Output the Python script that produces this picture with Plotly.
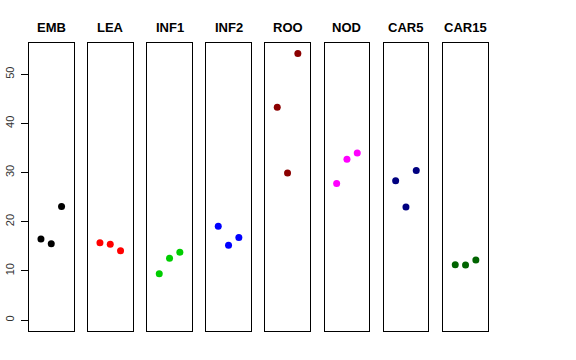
import plotly.graph_objects as go

categories = ["EMB", "LEA", "INF1", "INF2", "ROO", "NOD", "CAR5", "CAR15"]
colors = ["#000000", "#FF0000", "#00CD00", "#0000FF", "#8B0000", "#FF00FF", "#000080", "#006400"]
values = {
    "EMB": [16.5, 15.5, 23.1],
    "LEA": [15.7, 15.4, 14.1],
    "INF1": [9.4, 12.55, 13.8],
    "INF2": [19.1, 15.2, 16.8],
    "ROO": [43.3, 29.9, 54.2],
    "NOD": [27.8, 32.7, 34.0],
    "CAR5": [28.35, 23.0, 30.4],
    "CAR15": [11.25, 11.2, 12.2],
}
reps = [1, 2, 3]
y_ticks = [0, 10, 20, 30, 40, 50]

W, H = 576, 360
left_px = [29, 88, 147.3, 206.3, 265.3, 324.7, 383.7, 443.3]
panel_w = 44.5
top_px, bot_px = 43.3, 330.7

fig = go.Figure()
layout = dict(
    width=W, height=H, margin=dict(l=0, r=0, t=0, b=0, autoexpand=False),
    paper_bgcolor="white", plot_bgcolor="white", showlegend=False,
    font=dict(family="Liberation Sans, Arial, sans-serif", color="black"),
)
annotations = []
ydom = [1 - bot_px / H, 1 - top_px / H]
for i, cat in enumerate(categories):
    n = "" if i == 0 else str(i + 1)
    fig.add_trace(go.Scatter(
        x=reps, y=values[cat], mode="markers",
        marker=dict(color=colors[i], size=7, line=dict(width=0)),
        xaxis="x" + n, yaxis="y" + n, hoverinfo="skip",
    ))
    x0 = left_px[i] / W
    x1 = (left_px[i] + panel_w) / W
    layout["xaxis" + n] = dict(
        domain=[x0, x1], range=[-0.16, 4.16], showgrid=False, zeroline=False,
        showticklabels=False, ticks="", showline=True, mirror=True,
        linecolor="black", linewidth=1, anchor="y" + n, fixedrange=True,
        automargin=False,
    )
    ya = dict(
        domain=ydom, range=[-2.17, 56.3], showgrid=False, zeroline=False,
        showline=True, mirror=True, linecolor="black", linewidth=1,
        anchor="x" + n, fixedrange=True, automargin=False,
    )
    if i == 0:
        ya.update(tickvals=y_ticks, ticktext=[str(v) for v in y_ticks],
                  ticks="outside", ticklen=7, tickcolor="black", tickwidth=1,
                  tickangle=-90, ticklabelstandoff=3,
                  tickfont=dict(size=11, color="#333333"))
    else:
        ya.update(showticklabels=False, ticks="")
    layout["yaxis" + n] = ya
    annotations.append(dict(
        x=(x0 + x1) / 2, y=1 - 28 / H, xref="paper", yref="paper",
        text="<b>" + cat + "</b>", showarrow=False,
        font=dict(size=13, color="black"), xanchor="center", yanchor="middle",
    ))
layout["annotations"] = annotations
fig.update_layout(**layout)
fig.write_html("out.html", config={"displayModeBar": False},
               post_script="document.body.style.margin='0';document.body.style.overflow='hidden';")
